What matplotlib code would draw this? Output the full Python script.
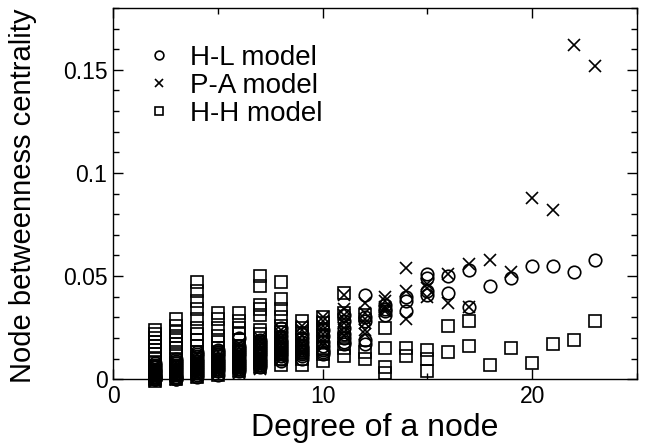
import matplotlib
matplotlib.use("Agg")
import matplotlib.pyplot as plt
from matplotlib.ticker import MultipleLocator

plt.rcParams['font.family'] = ['Liberation Sans', 'DejaVu Sans']

degrees = list(range(2, 24))

hl_values = [
    [0.008, 0.007, 0.006, 0.005, 0.004, 0.004, 0.003, 0.002, 0.002, 0.001, 0.001, 0.0, 0.0, 0.0],
    [0.010, 0.009, 0.008, 0.007, 0.006, 0.005, 0.004, 0.003, 0.002, 0.001, 0.001, 0.0, 0.0],
    [0.013, 0.012, 0.011, 0.010, 0.009, 0.008, 0.007, 0.006, 0.005, 0.004, 0.003, 0.002, 0.001],
    [0.014, 0.013, 0.012, 0.011, 0.010, 0.009, 0.008, 0.007, 0.006, 0.005, 0.004, 0.002],
    [0.020, 0.016, 0.015, 0.014, 0.013, 0.012, 0.011, 0.010, 0.009, 0.008, 0.007, 0.006, 0.005, 0.004],
    [0.019, 0.018, 0.017, 0.016, 0.015, 0.014, 0.013, 0.012, 0.011, 0.010, 0.009, 0.008, 0.007, 0.006],
    [0.025, 0.023, 0.021, 0.019, 0.018, 0.017, 0.016, 0.015, 0.014, 0.013, 0.012, 0.011, 0.010, 0.009],
    [0.022, 0.020, 0.018, 0.016, 0.015, 0.014, 0.013, 0.012, 0.011, 0.010],
    [0.024, 0.021, 0.018, 0.016, 0.014, 0.013, 0.012],
    [0.031, 0.028, 0.025, 0.022, 0.020, 0.018, 0.017],
    [0.041, 0.030, 0.028, 0.019, 0.017],
    [0.036, 0.034, 0.033, 0.031],
    [0.040, 0.038, 0.033],
    [0.051, 0.049, 0.043, 0.041],
    [0.050, 0.042],
    [0.053, 0.035],
    [0.045],
    [0.049],
    [0.055],
    [0.055],
    [0.052],
    [0.058],
]

pa_values = [
    [0.007, 0.006, 0.005, 0.004, 0.003, 0.002, 0.002, 0.001, 0.001, 0.0, 0.0, -0.001],
    [0.008, 0.007, 0.006, 0.005, 0.004, 0.003, 0.002, 0.001, 0.0, 0.0],
    [0.012, 0.010, 0.009, 0.008, 0.007, 0.006, 0.005, 0.004, 0.003, 0.002, 0.001],
    [0.013, 0.011, 0.010, 0.009, 0.008, 0.007, 0.006, 0.005, 0.004, 0.003],
    [0.017, 0.015, 0.013, 0.012, 0.010, 0.009, 0.008, 0.007, 0.006, 0.005, 0.004, 0.003],
    [0.020, 0.018, 0.016, 0.014, 0.012, 0.011, 0.010, 0.009, 0.008, 0.007, 0.006, 0.005],
    [0.024, 0.022, 0.020, 0.018, 0.016, 0.014, 0.013, 0.012, 0.011, 0.010],
    [0.026, 0.024, 0.021, 0.019, 0.017, 0.015, 0.013, 0.012],
    [0.030, 0.028, 0.026, 0.024, 0.022, 0.020, 0.018, 0.016],
    [0.041, 0.034, 0.031, 0.029, 0.027, 0.025, 0.023, 0.021],
    [0.037, 0.032, 0.029, 0.027, 0.024, 0.022],
    [0.040, 0.038, 0.035, 0.034, 0.033],
    [0.054, 0.043, 0.029],
    [0.046, 0.044, 0.040],
    [0.051, 0.037],
    [0.056, 0.035],
    [0.058],
    [0.052],
    [0.088],
    [0.082],
    [0.162],
    [0.152],
]

hh_values = [
    [0.024, 0.022, 0.020, 0.018, 0.016, 0.014, 0.012, 0.010, 0.008, 0.006, 0.004, 0.002, 0.0, -0.001],
    [0.029, 0.026, 0.023, 0.021, 0.019, 0.017, 0.015, 0.012, 0.010, 0.008, 0.006, 0.004, 0.002, 0.0],
    [0.047, 0.043, 0.038, 0.034, 0.029, 0.025, 0.022, 0.019, 0.016, 0.013, 0.010, 0.008, 0.005, 0.003, 0.001],
    [0.032, 0.029, 0.025, 0.021, 0.018, 0.015, 0.013, 0.011, 0.008, 0.006, 0.004, 0.002],
    [0.032, 0.028, 0.025, 0.022, 0.019, 0.016, 0.013, 0.010, 0.008, 0.006, 0.004],
    [0.050, 0.045, 0.036, 0.034, 0.031, 0.024, 0.022, 0.020, 0.017, 0.015, 0.012, 0.010, 0.008, 0.006],
    [0.047, 0.039, 0.034, 0.030, 0.026, 0.023, 0.020, 0.017, 0.015, 0.012, 0.010, 0.007],
    [0.028, 0.025, 0.022, 0.019, 0.016, 0.013, 0.010, 0.007],
    [0.030, 0.027, 0.024, 0.021, 0.018, 0.015, 0.012, 0.009],
    [0.042, 0.032, 0.020, 0.015, 0.011],
    [0.031, 0.013, 0.010],
    [0.025, 0.015, 0.006, 0.003],
    [0.015, 0.011],
    [0.014, 0.010, 0.004],
    [0.026, 0.013],
    [0.028, 0.016],
    [0.007],
    [0.015],
    [0.008],
    [0.017],
    [0.019],
    [0.028],
]

series_labels = ["H-L model", "P-A model", "H-H model"]
x_ticks = [0, 10, 20]
y_ticks = [0, 0.05, 0.1, 0.15]
y_tick_labels = ["0", "0.05", "0.1", "0.15"]


def flatten(vals):
    xs, ys = [], []
    for d, col in zip(degrees, vals):
        for v in col:
            xs.append(d)
            ys.append(v)
    return xs, ys


fig = plt.figure(figsize=(6.46, 4.44), dpi=100)
ax = fig.add_axes([0.175, 0.146, 0.811, 0.836])

ms = 9
mew = 1.2
x1, y1 = flatten(hl_values)
ax.plot(x1, y1, linestyle='none', marker='o', markersize=ms, markerfacecolor='none',
        markeredgecolor='black', markeredgewidth=mew, clip_on=False, label=series_labels[0])
x2, y2 = flatten(pa_values)
ax.plot(x2, y2, linestyle='none', marker='x', markersize=ms, color='black',
        markeredgewidth=mew, clip_on=False, label=series_labels[1])
x3, y3 = flatten(hh_values)
ax.plot(x3, y3, linestyle='none', marker='s', markersize=ms, markerfacecolor='none',
        markeredgecolor='black', markeredgewidth=mew, clip_on=False, label=series_labels[2])

ax.set_xlim(0, 25)
ax.set_ylim(0, 0.18)
ax.set_xticks(x_ticks)
ax.set_yticks(y_ticks)
ax.set_yticklabels(y_tick_labels)
ax.xaxis.set_minor_locator(MultipleLocator(5))
ax.yaxis.set_minor_locator(MultipleLocator(0.01))
ax.tick_params(which='both', direction='in', top=True, right=True, width=1.0)
ax.tick_params(which='major', length=7.5, labelsize=16.5, pad=4)
ax.tick_params(which='minor', length=4.5)
for sp in ax.spines.values():
    sp.set_linewidth(1.0)

ax.set_xlabel("Degree of a node", fontsize=23)
ax.set_ylabel("Node betweenness centrality", fontsize=21)
ax.yaxis.set_label_coords(-0.145, 0.495)

ax.legend(loc='upper left', frameon=False, fontsize=20, markerscale=0.7,
          handlelength=1.0, handletextpad=0.6, labelspacing=0.07,
          bbox_to_anchor=(0.04, 0.93), borderaxespad=0)

fig.savefig("out.png", dpi=100)
